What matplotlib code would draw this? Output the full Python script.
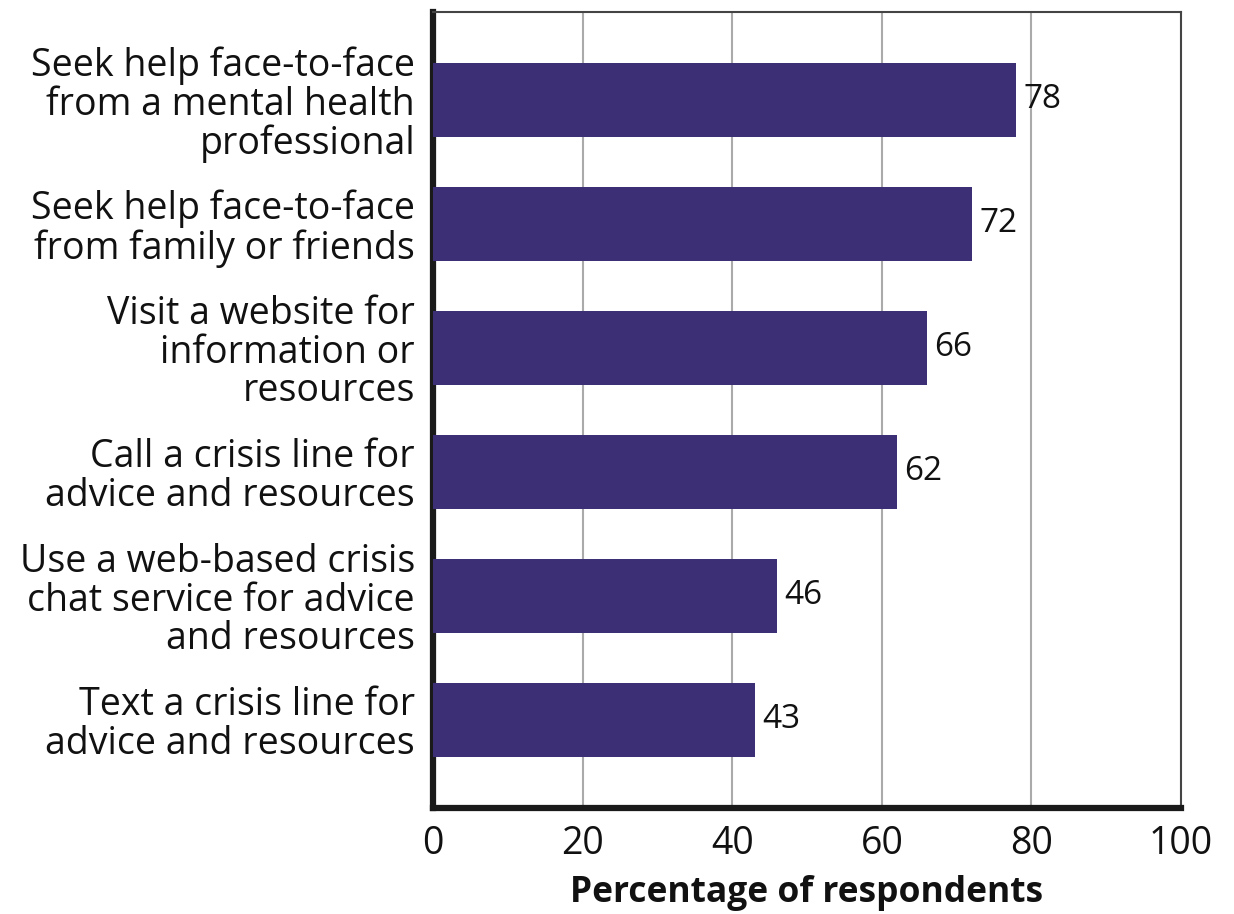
import numpy as np
import matplotlib
matplotlib.use("Agg")
import matplotlib.pyplot as plt

plt.rcParams['font.family'] = ['Open Sans', 'DejaVu Sans']

categories = ["Seek help face-to-face\nfrom a mental health\nprofessional",
              "Seek help face-to-face\nfrom family or friends",
              "Visit a website for\ninformation or\nresources",
              "Call a crisis line for\nadvice and resources",
              "Use a web-based crisis\nchat service for advice\nand resources",
              "Text a crisis line for\nadvice and resources"]
values = [78, 72, 66, 62, 46, 43]
xticks = [0, 20, 40, 60, 80, 100]

fig = plt.figure(figsize=(12.34, 9.14), dpi=100)
ax = fig.add_axes([0.351, 0.116, 0.606, 0.871])

y = np.arange(len(categories))
ax.barh(y, values, height=0.6, color='#3d2f75', zorder=3)
for yi, v in zip(y, values):
    ax.text(v + 1.0, yi, str(v), va='center', ha='left', fontsize=24,
            fontweight='medium', color='#111111')

ax.set_xlim(0, 100)
ax.set_ylim(len(categories) - 0.29, -0.71)
ax.set_xticks(xticks)
ax.set_yticks(y)
ax.set_yticklabels(categories, fontsize=27, linespacing=1.02)
ax.tick_params(axis='x', length=0, labelsize=27, pad=12)
ax.tick_params(axis='y', length=0, pad=13)
for lab in ax.get_xticklabels() + ax.get_yticklabels():
    lab.set_color('#111111')
ax.grid(axis='x', color='#aaaaaa', linewidth=1.5, zorder=0)

ax.spines['left'].set_linewidth(4.5)
ax.spines['bottom'].set_linewidth(4.5)
ax.spines['left'].set_color('#1a1a1a')
ax.spines['bottom'].set_color('#1a1a1a')
ax.spines['top'].set_linewidth(1.5)
ax.spines['right'].set_linewidth(1.5)
ax.spines['top'].set_color('#444444')
ax.spines['right'].set_color('#444444')

ax.set_xlabel("Percentage of respondents", fontsize=25.5, fontweight='bold', labelpad=9, color='#111111')

fig.savefig("out.png", dpi=100)
